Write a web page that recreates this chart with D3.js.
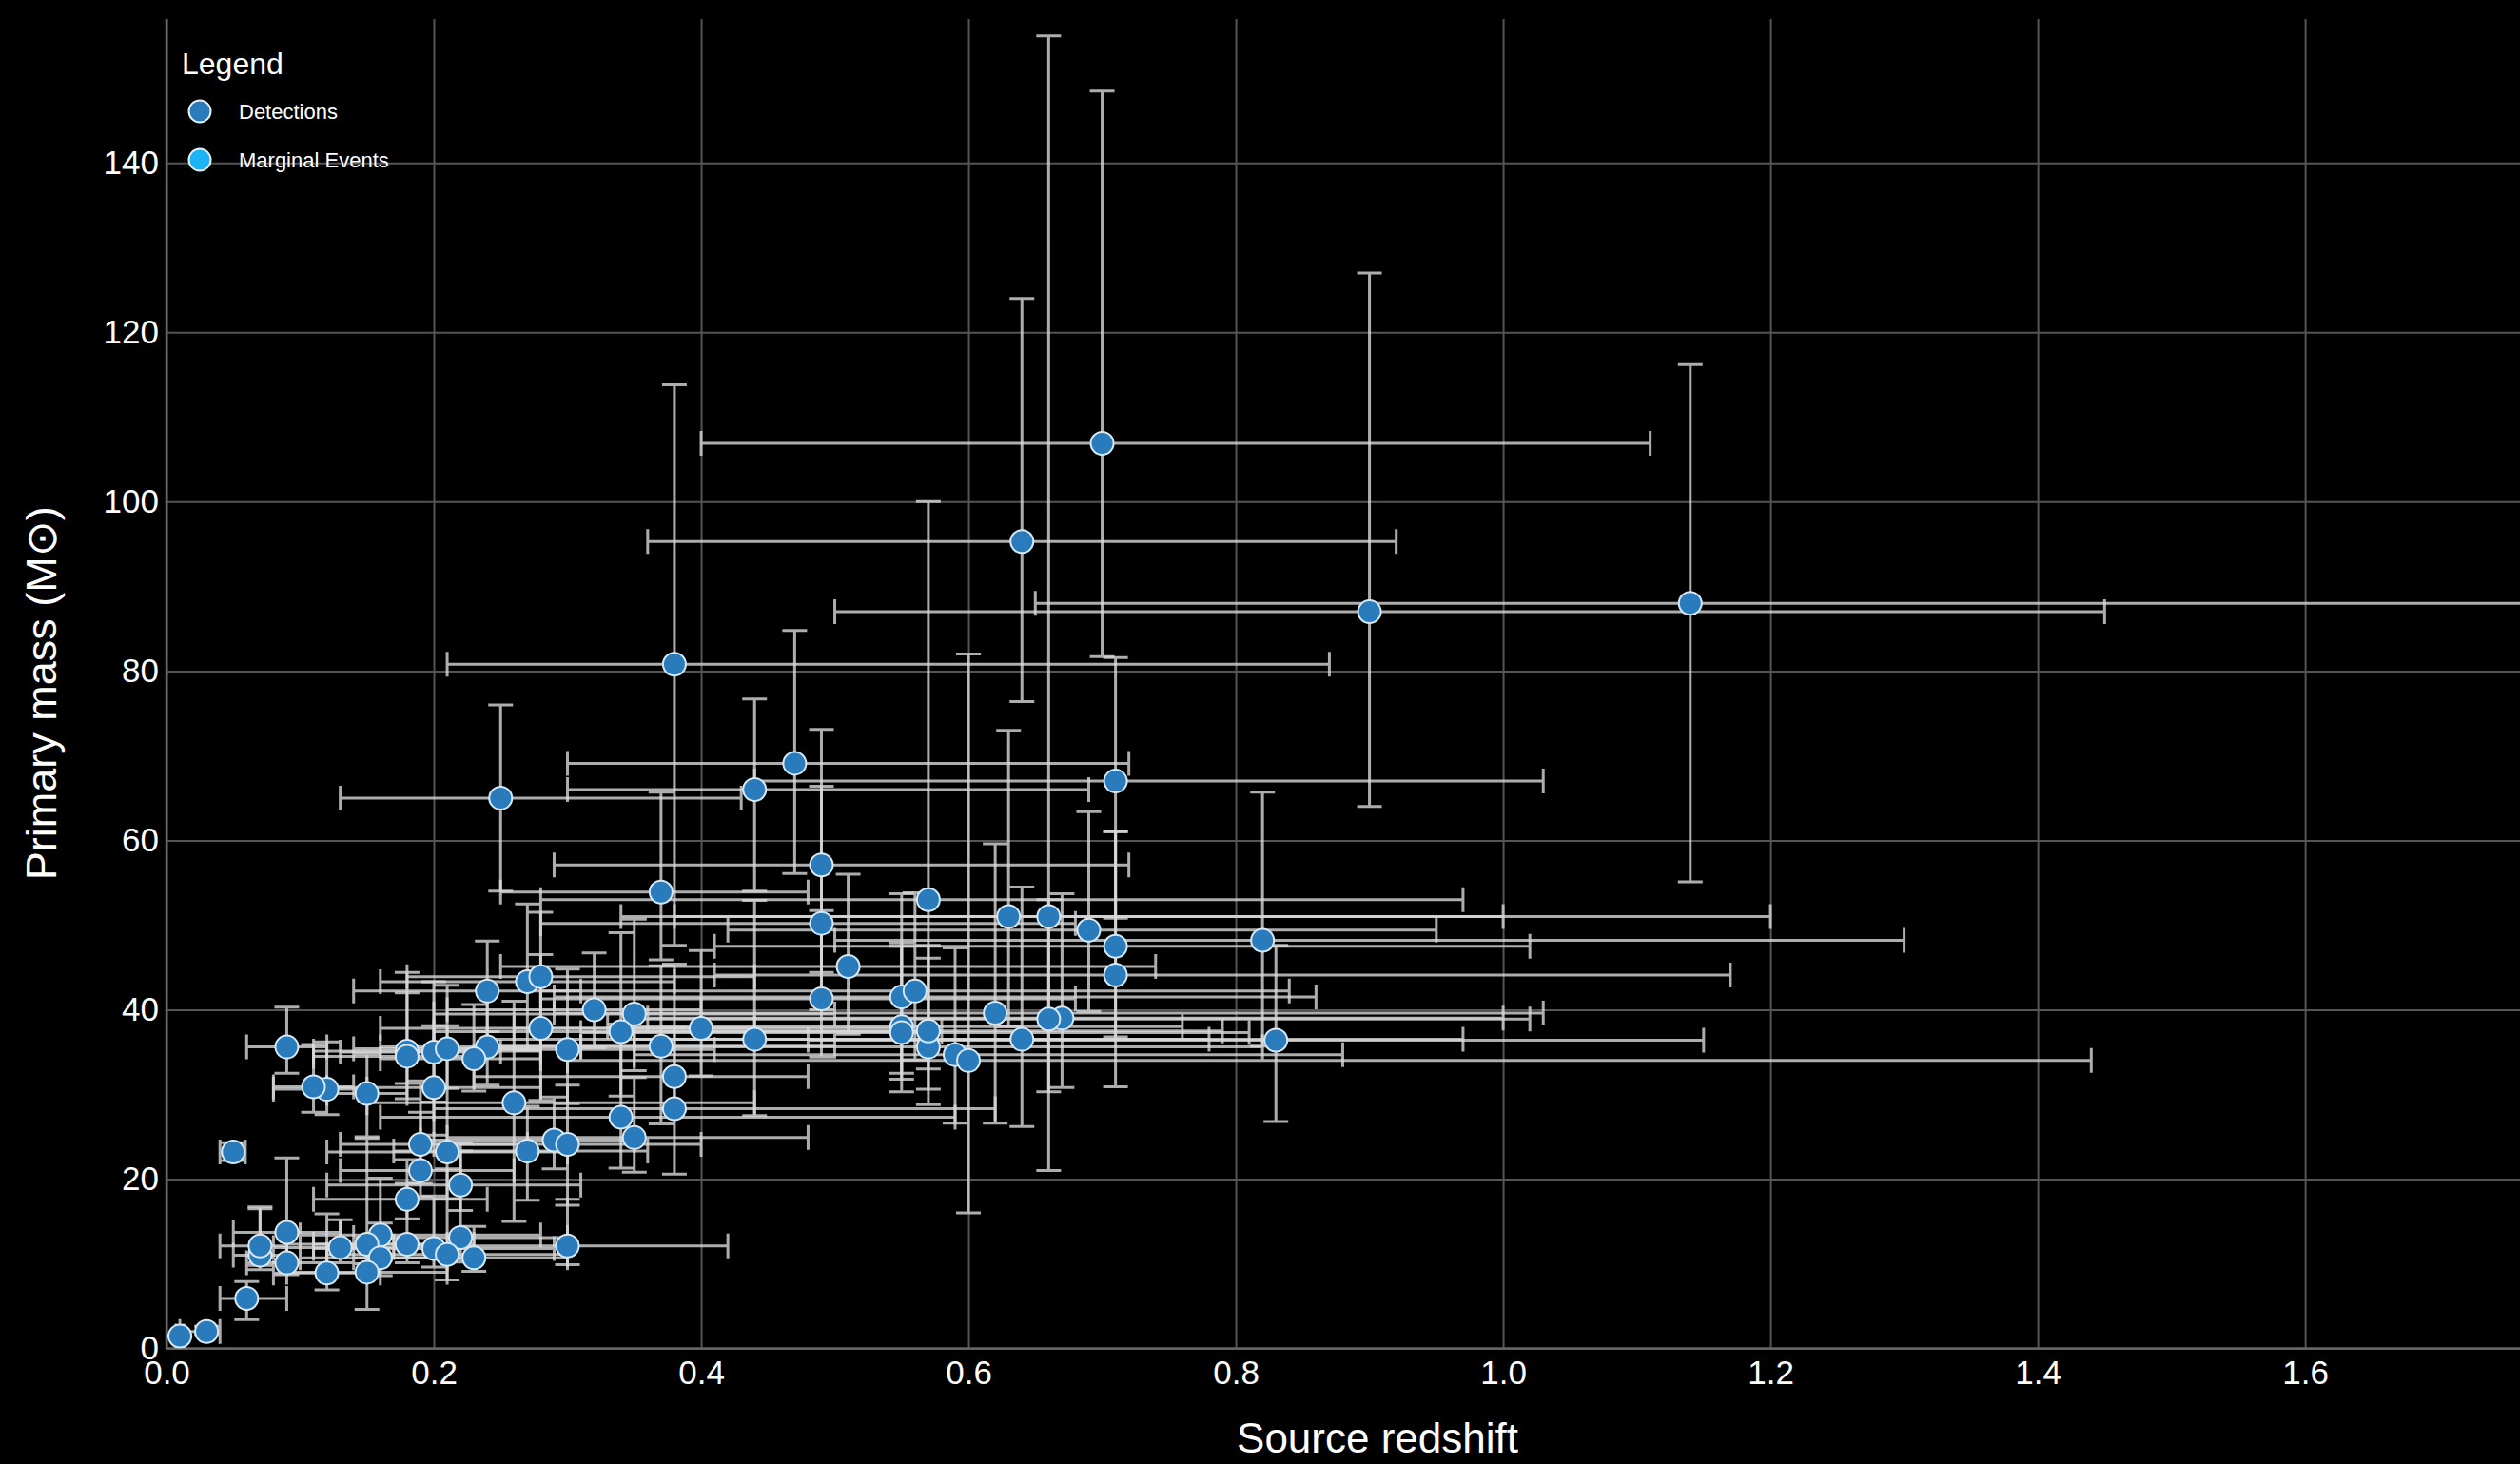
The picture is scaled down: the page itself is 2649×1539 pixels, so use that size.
<!DOCTYPE html>
<html>
<head>
<meta charset="utf-8">
<script src="https://cdn.jsdelivr.net/npm/d3@7"></script>
<style>
  html, body { margin: 0; padding: 0; background: #000; overflow: hidden; }
  svg { display: block; }
</style>
</head>
<body>
<svg id="chart"></svg>
<script>
// Binary merger detections: source redshift and primary mass (solar masses),
// each with asymmetric 90% credible bounds.
const redshift      = [0.09,0.21,0.09,0.20,0.07,0.49,0.20,0.12,0.01,0.21,0.35,1.14,0.29,0.15,0.59,0.71,0.49,0.03,0.70,0.27,0.27,0.37,0.67,0.34,0.44,0.64,0.24,0.44,0.47,0.49,0.18,0.37,0.71,0.18,0.64,0.16,0.55,0.18,0.55,0.55,0.05,0.38,0.30,0.62,0.28,0.30,0.12,0.38,0.15,0.20,0.23,0.25,0.26,0.30,0.57,0.16,0.34,0.13,0.35,0.07,0.51,0.69,0.24,0.06,0.56,0.18,0.09,0.40,0.66,0.57,0.19,0.63,0.57,0.90,0.66,0.32,0.22,0.28,0.38,0.83,0.23,0.22,0.60,0.82,0.71,0.11,0.19,0.15,0.21];
const redshiftPlus  = [0.03,0.09,0.04,0.08,0.02,0.19,0.05,0.03,0.003,0.07,0.15,0.77,0.06,0.03,0.29,0.31,0.19,0.01,0.41,0.11,0.09,0.13,0.33,0.24,0.25,0.28,0.07,0.34,0.25,0.23,0.10,0.11,0.32,0.06,0.33,0.12,0.21,0.05,0.31,0.26,0.009,0.10,0.10,0.41,0.16,0.11,0.04,0.49,0.06,0.09,0.07,0.18,0.18,0.12,0.40,0.05,0.25,0.04,0.13,0.02,0.23,0.26,0.07,0.03,0.28,0.05,0.03,0.15,0.54,0.25,0.08,0.37,0.22,0.55,0.36,0.08,0.09,0.16,0.24,0.32,0.05,0.08,0.84,0.48,0.46,0.03,0.07,0.06,0.09];
const redshiftMinus = [0.03,0.09,0.04,0.08,0.02,0.21,0.07,0.04,0.003,0.07,0.15,0.49,0.10,0.03,0.24,0.30,0.21,0.02,0.30,0.11,0.10,0.13,0.31,0.14,0.14,0.28,0.10,0.20,0.17,0.20,0.07,0.12,0.27,0.07,0.29,0.06,0.22,0.07,0.26,0.24,0.010,0.15,0.10,0.33,0.10,0.10,0.04,0.17,0.06,0.09,0.09,0.12,0.11,0.13,0.29,0.06,0.18,0.05,0.14,0.03,0.26,0.27,0.08,0.02,0.28,0.07,0.03,0.14,0.28,0.26,0.06,0.29,0.22,0.40,0.31,0.11,0.10,0.12,0.18,0.35,0.07,0.08,0.30,0.32,0.30,0.03,0.06,0.06,0.09];
const primaryMass   = [35.6,23.2,13.7,30.8,11.0,50.2,35.0,30.6,1.46,35.4,39.5,88.0,24.6,30.1,34.7,47.5,41.3,2.0,106.9,43.3,23.3,35.7,39.0,37.4,66.0,95.3,42.2,36.5,69.1,57.1,35.1,53.9,67.0,17.6,36.5,13.4,38.0,12.3,41.5,37.3,23.2,32.1,24.1,39.6,43.9,35.3,8.9,80.8,12.3,11.8,10.7,65.0,29.0,12.1,53.0,10.7,27.3,11.9,24.9,12.1,45.1,49.4,35.6,5.9,42.2,34.5,10.1,37.8,51.0,35.6,24.1,51.0,37.5,87.0,38.9,40.0,19.3,37.8,28.3,36.4,34.2,13.1,34.0,48.2,44.1,30.9,21.0,9.0,11.1];
const massPlus      = [4.7,14.9,8.8,7.3,5.5,16.2,8.3,5.6,0.12,7.5,11.2,28.2,5.1,4.7,12.6,13.5,10.4,0.6,41.6,9.2,5.3,9.5,14.7,11.7,10.7,28.7,5.9,16.4,15.7,16.0,6.9,11.8,14.6,4.7,18.0,6.7,9.5,7.2,12.2,10.6,1.1,5.8,7.0,20.0,7.6,9.5,7.0,33.0,12.5,6.2,3.7,11.0,12.0,5.5,47.0,4.1,11.0,3.3,7.1,4.6,10.9,14.0,6.7,2.0,11.6,9.9,3.5,9.2,104.0,10.5,7.5,22.0,10.1,40.0,14.1,6.7,5.0,8.7,17.1,11.2,6.4,10.2,48.0,17.5,17.0,5.0,6.9,3.4,10.1];
const massMinus     = [3.1,5.5,3.2,5.6,1.7,10.2,5.9,3.0,0.10,4.7,6.7,32.9,3.4,5.1,8.1,10.7,6.9,0.3,25.2,8.1,5.8,9.2,8.2,7.6,12.0,18.9,4.8,9.0,13.0,12.7,5.6,8.0,16.2,2.3,10.3,3.0,6.2,2.2,9.0,7.0,1.0,4.0,7.2,13.0,6.1,6.4,2.0,33.2,2.3,2.2,1.6,11.0,14.0,2.2,20.0,2.1,6.0,1.8,4.1,2.3,8.0,9.6,4.5,2.5,8.1,3.2,1.4,5.6,30.0,6.8,4.6,13.0,6.9,23.0,8.6,4.5,3.0,8.5,7.7,9.6,3.8,2.9,18.0,12.5,13.2,3.0,3.1,4.4,3.0];

// Marginal candidates (none plotted in this view, kept for the legend entry)
const marginalRedshift = [];
const marginalMass = [];

const xTicks = [0, 0.2, 0.4, 0.6, 0.8, 1.0, 1.2, 1.4, 1.6];
const yTicks = [0, 20, 40, 60, 80, 100, 120, 140];
const legendLabels = ["Detections", "Marginal Events"];
const legendColors = ["#2a7bbb", "#1cb4f4"];

(function draw() {
  const W = 2649, H = 1539;
  const plotLeft = 175, plotRight = 2721, plotTop = 20, plotBottom = 1417.5;
  const fontStack = "'Liberation Sans', Arial, Helvetica, sans-serif";

  const svg = d3.select("#chart").attr("width", W).attr("height", H)
    .style("font-family", fontStack);

  svg.append("rect").attr("width", W).attr("height", H).attr("fill", "#000");

  const x = d3.scaleLinear().domain([0, 1.812]).range([plotLeft, plotRight]);
  const y = d3.scaleLinear().domain([0, 157]).range([plotBottom, plotTop]);

  // Grid + tick labels
  const xAxis = svg.append("g").attr("transform", `translate(0,${plotBottom})`)
    .call(d3.axisBottom(x).tickValues(xTicks).tickFormat(d3.format(".1f"))
          .tickSize(-(plotBottom - plotTop)).tickPadding(13));
  const yAxis = svg.append("g").attr("transform", `translate(${plotLeft},0)`)
    .call(d3.axisLeft(y).tickValues(yTicks).tickFormat(d3.format("d"))
          .tickSize(-(plotRight - plotLeft)).tickPadding(8));

  [xAxis, yAxis].forEach(g => {
    g.select(".domain").remove();
    g.selectAll(".tick line").attr("stroke", "#555").attr("stroke-width", 2);
    g.selectAll(".tick text").attr("fill", "#fff").attr("font-size", 35)
      .style("font-family", fontStack);
  });

  // Axis lines
  svg.append("line").attr("x1", plotLeft).attr("x2", W).attr("y1", plotBottom).attr("y2", plotBottom)
    .attr("stroke", "#666").attr("stroke-width", 2.5);
  svg.append("line").attr("x1", plotLeft).attr("x2", plotLeft).attr("y1", plotTop).attr("y2", plotBottom)
    .attr("stroke", "#666").attr("stroke-width", 2.5);

  // Axis titles
  svg.append("text").attr("x", (plotLeft + plotRight) / 2).attr("y", 1527)
    .attr("text-anchor", "middle").attr("fill", "#fff").attr("font-size", 44)
    .text("Source redshift");
  svg.append("text").attr("transform", `translate(59,${(plotTop + plotBottom) / 2 + 10}) rotate(-90)`)
    .attr("text-anchor", "middle").attr("fill", "#fff").attr("font-size", 45)
    .text("Primary mass (M\u2299)");

  // Error bars
  svg.append("clipPath").attr("id", "plot-clip").append("rect")
    .attr("x", plotLeft).attr("y", plotTop).attr("width", plotRight - plotLeft).attr("height", plotBottom - plotTop);

  const events = redshift.map((z, i) => ({
    z, zHi: z + redshiftPlus[i], zLo: Math.max(0, z - redshiftMinus[i]),
    m: primaryMass[i], mHi: primaryMass[i] + massPlus[i], mLo: primaryMass[i] - massMinus[i]
  }));

  const cap = 13;
  const bars = svg.append("g").attr("clip-path", "url(#plot-clip)")
    .attr("stroke", "#d8d8d8").attr("stroke-opacity", 0.8).attr("stroke-width", 3).attr("fill", "none");

  const barPath = d => {
    const xl = x(d.zLo), xh = x(d.zHi), yc = y(d.m);
    const xc = x(d.z), yl = y(d.mLo), yh = y(d.mHi);
    return `M${xl},${yc}H${xh}` +
           `M${xl},${yc - cap}V${yc + cap}M${xh},${yc - cap}V${yc + cap}` +
           `M${xc},${yl}V${yh}` +
           `M${xc - cap},${yl}H${xc + cap}M${xc - cap},${yh}H${xc + cap}`;
  };
  bars.selectAll("path").data(events).join("path").attr("d", barPath);

  // Points
  svg.append("g").selectAll("circle").data(events).join("circle")
    .attr("cx", d => x(d.z)).attr("cy", d => y(d.m)).attr("r", 12)
    .attr("fill", legendColors[0]).attr("stroke", "#d6e8f5").attr("stroke-width", 2);

  svg.append("g").selectAll("circle")
    .data(marginalRedshift.map((z, i) => ({ z, m: marginalMass[i] })))
    .join("circle")
    .attr("cx", d => x(d.z)).attr("cy", d => y(d.m)).attr("r", 12)
    .attr("fill", legendColors[1]).attr("stroke", "#d6e8f5").attr("stroke-width", 2);

  // Legend
  const legend = svg.append("g");
  legend.append("text").attr("x", 191).attr("y", 78).attr("fill", "#fff")
    .attr("font-size", 32).text("Legend");
  legendLabels.forEach((label, i) => {
    const cy = 117 + i * 51;
    legend.append("circle").attr("cx", 210).attr("cy", cy).attr("r", 11.5)
      .attr("fill", legendColors[i]).attr("stroke", "#e6f0f8").attr("stroke-width", 2);
    legend.append("text").attr("x", 251).attr("y", cy + 8).attr("fill", "#fff")
      .attr("font-size", 22).text(label);
  });
})();
</script>
</body>
</html>
